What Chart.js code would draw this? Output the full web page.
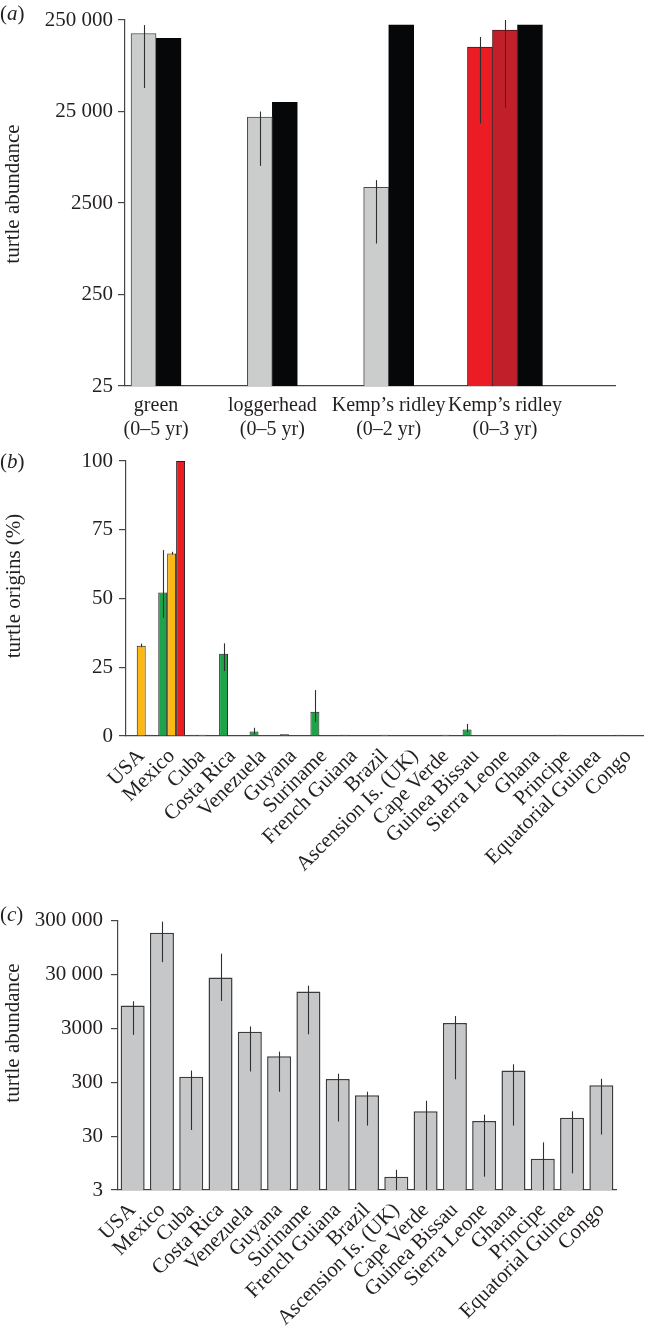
<!DOCTYPE html>
<html>
<head>
<meta charset="utf-8">
<script src="https://cdn.jsdelivr.net/npm/chart.js@4.4.1/dist/chart.umd.min.js"></script>
<style>
  body { margin: 0; background: #fff; }
  #page { position: relative; width: 646px; height: 1341px; overflow: hidden;
          font-family: "Liberation Serif", serif; color: #231f20; }
  canvas { position: absolute; left: 0; }
  .lbl { position: absolute; font-size: 21px; line-height: 24px; white-space: nowrap; }
  .ytitle { position: absolute; font-size: 21px; line-height: 24px; white-space: nowrap;
            transform: translate(-50%, -50%) rotate(-90deg); }
</style>
</head>
<body>
<div id="page">
  <canvas id="ca" width="646" height="440" style="top:0"></canvas>
  <canvas id="cb" width="646" height="470" style="top:440px"></canvas>
  <canvas id="cc" width="646" height="441" style="top:900px"></canvas>

  <div class="lbl" style="left:0;top:1px">(<i>a</i>)</div>
  <div class="lbl" style="left:0;top:449px">(<i>b</i>)</div>
  <div class="lbl" style="left:0;top:902px">(<i>c</i>)</div>

  <div class="ytitle" style="left:12px;top:194px">turtle abundance</div>
  <div class="ytitle" style="left:13px;top:586px">turtle origins (%)</div>
  <div class="ytitle" style="left:12px;top:1033px">turtle abundance</div>
</div>

<script>
// panel (a): abundance by species / age class
const species = [['green', '(0–5 yr)'], ['loggerhead', '(0–5 yr)'],
                 ['Kemp’s ridley', '(0–2 yr)'], ['Kemp’s ridley', '(0–3 yr)']];
const aGray = [178000, 21700, 3700, null];
const aGrayLo = [45200, 6370, 902, null];
const aGrayHi = [220000, 25000, 4440, null];
const aRed = [null, null, null, 126700];
const aRedLo = [null, null, null, 18500];
const aRedHi = [null, null, null, 163000];
const aDarkRed = [null, null, null, 194500];
const aDarkRedLo = [null, null, null, 27400];
const aDarkRedHi = [null, null, null, 250000];
const aBlack = [157700, 31400, 222000, 222000];
const aTicks = [25, 250, 2500, 25000, 250000];

// panel (b): origins (%) by rookery country
const countries = ['USA', 'Mexico', 'Cuba', 'Costa Rica', 'Venezuela', 'Guyana', 'Suriname',
  'French Guiana', 'Brazil', 'Ascension Is. (UK)', 'Cape Verde', 'Guinea Bissau',
  'Sierra Leone', 'Ghana', 'Principe', 'Equatorial Guinea', 'Congo'];
const bGreen   = [0, 52.2, 0.5, 29.9, 1.6, 0.6, 8.8, 0.5, 0, 0, 0, 2.4, 0, 0, 0.5, 0, 0.5];
const bGreenLo = [null, 43, null, 23.6, 0.6, null, 5, null, null, null, null, 1.4, null, null, null, null, null];
const bGreenHi = [null, 67.6, null, 33.7, 3.0, 0.9, 16.7, null, null, null, null, 4.4, null, null, null, null, null];
const bYellow   = [32.8, 66.4, 0.5, 0, 0, 0, 0, 0, 0.5, 0, 0.5, 0, 0, 0, 0, 0, 0];
const bYellowLo = [32.3, 66, null, null, null, null, null, null, null, null, null, null, null, null, null, null, null];
const bYellowHi = [33.6, 67, null, null, null, null, null, null, null, null, null, null, null, null, null, null, null];
const bRed = [0.5, 100, 0, 0, 0, 0, 0, 0, 0, 0, 0, 0, 0, 0, 0, 0, 0];
const bTicks = [0, 25, 50, 75, 100];

// panel (c): abundance by rookery country
const cValues = [7990, 178600, 379, 26400, 2600, 915, 14500, 343, 172, 5.3, 87, 3790, 57, 496, 11.4, 66, 264];
const cLo = [2270, 50800, 39, 9680, 475, 200, 2330, 56, 47, 3, 3, 340, 5.3, 47, 3, 6.1, 32];
const cHi = [9540, 287000, 495, 73000, 3260, 1110, 18600, 432, 200, 7.1, 136, 5080, 75, 646, 23, 86.5, 348];
const cTicks = [3, 30, 300, 3000, 30000, 300000];

Chart.defaults.font.family = '"Liberation Serif", serif';
Chart.defaults.font.size = 21;
Chart.defaults.color = '#231f20';

const AXIS = '#454545';

// thin vertical error lines, no caps
const errorBars = {
  id: 'errorBars',
  afterDatasetsDraw(chart) {
    const ctx = chart.ctx;
    const y = chart.scales.y;
    chart.data.datasets.forEach((ds, di) => {
      if (!ds.errLo) return;
      const meta = chart.getDatasetMeta(di);
      meta.data.forEach((bar, i) => {
        const lo = ds.errLo[i], hi = ds.errHi[i];
        if (lo == null || hi == null) return;
        const x = Math.round(bar.x) + 0.5;
        ctx.save();
        ctx.strokeStyle = '#2f2f2f';
        ctx.lineWidth = 1.1;
        ctx.beginPath();
        ctx.moveTo(x, y.getPixelForValue(lo));
        ctx.lineTo(x, y.getPixelForValue(hi));
        ctx.stroke();
        ctx.restore();
      });
    });
  }
};

const fmt = v => v >= 10000 ? String(v).replace(/\B(?=(\d{3})+(?!\d))/g, ' ') : String(v);

function yAxis(type, ticks, width, pad) {
  return {
    type: type,
    min: ticks[0],
    max: ticks[ticks.length - 1],
    afterBuildTicks: s => { s.ticks = ticks.map(v => ({ value: v })); },
    afterFit: s => { s.width = width; },
    grid: { drawOnChartArea: false, drawTicks: true, tickLength: 7, color: AXIS, lineWidth: 1.2 },
    border: { color: AXIS, width: 1.2 },
    ticks: { padding: pad, callback: v => fmt(v) }
  };
}

const common = {
  responsive: false,
  animation: false,
  events: [],
  plugins: { legend: { display: false }, tooltip: { enabled: false } }
};

// ---------- (a)
new Chart(document.getElementById('ca'), {
  type: 'bar',
  data: {
    labels: species.map((s, i) => i + 1),
    datasets: [
      { data: aGray, errLo: aGrayLo, errHi: aGrayHi, backgroundColor: '#cbcccc', borderColor: '#4a4a4a' },
      { data: aRed, errLo: aRedLo, errHi: aRedHi, backgroundColor: '#ec1c24', borderColor: '#4a1416' },
      { data: aDarkRed, errLo: aDarkRedLo, errHi: aDarkRedHi, backgroundColor: '#c1202a', borderColor: '#4a1416' },
      { data: aBlack, backgroundColor: '#060708', borderColor: '#060708' }
    ]
  },
  options: Object.assign({}, common, {
    layout: { padding: { left: 0, right: 31, top: 20, bottom: 0 } },
    datasets: { bar: { barThickness: 25, borderWidth: 1, skipNull: true, borderSkipped: 'start' } },
    scales: {
      x: {
        type: 'linear', min: 0.733, max: 4.946, offset: false,
        afterBuildTicks: s => { s.ticks = species.map((c, i) => ({ value: i + 1 })); },
        afterFit: s => { s.height = 54; },
        grid: { display: false },
        border: { color: AXIS, width: 1.2 },
        ticks: { autoSkip: false, maxRotation: 0, padding: 0, font: { size: 20, lineHeight: 1.2 },
                 callback: (v, i) => species[i] }
      },
      y: yAxis('logarithmic', aTicks, 125, 5)
    }
  }),
  plugins: [errorBars]
});

// ---------- (b)
new Chart(document.getElementById('cb'), {
  type: 'bar',
  data: {
    labels: countries,
    datasets: [
      { data: bGreen, errLo: bGreenLo, errHi: bGreenHi, backgroundColor: '#1fa34a' },
      { data: bYellow, errLo: bYellowLo, errHi: bYellowHi, backgroundColor: '#fdb913' },
      { data: bRed, backgroundColor: '#ec1c24' }
    ]
  },
  options: Object.assign({}, common, {
    layout: { padding: { left: 0, right: 0, top: 21, bottom: 0 } },
    datasets: { bar: { categoryPercentage: 0.88, barPercentage: 1, borderWidth: 1,
                       borderColor: '#1e1e1e', borderSkipped: 'start' } },
    scales: {
      x: {
        afterFit: s => { s.height = 174; },
        grid: { display: false },
        border: { color: AXIS, width: 1.2 },
        ticks: { autoSkip: false, minRotation: 45, maxRotation: 45, padding: 0 }
      },
      y: yAxis('linear', bTicks, 126, 6)
    }
  }),
  plugins: [errorBars]
});

// ---------- (c)
new Chart(document.getElementById('cc'), {
  type: 'bar',
  data: {
    labels: countries,
    datasets: [
      { data: cValues, errLo: cLo, errHi: cHi, backgroundColor: '#c6c7c9',
        borderColor: '#3c3c3c', borderWidth: 1.5 }
    ]
  },
  options: Object.assign({}, common, {
    layout: { padding: { left: 0, right: 30, top: 15, bottom: 0 } },
    datasets: { bar: { categoryPercentage: 0.82, barPercentage: 1, borderSkipped: 'start' } },
    scales: {
      x: {
        afterFit: s => { s.height = 151; },
        grid: { display: false },
        border: { color: AXIS, width: 1.2 },
        ticks: { autoSkip: false, minRotation: 45, maxRotation: 45, padding: 0 }
      },
      y: yAxis('logarithmic', cTicks, 118, 8)
    }
  }),
  plugins: [errorBars]
});
</script>
</body>
</html>
